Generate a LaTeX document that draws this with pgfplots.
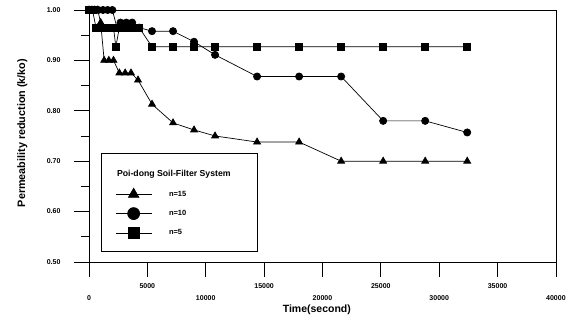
\documentclass[border=0pt]{standalone}
\usepackage{fontspec}
\setmainfont{Liberation Sans}
\usepackage{pgfplots}
\pgfplotsset{compat=1.18}
\begin{document}
\begin{tikzpicture}
\begin{axis}[
  scale only axis, width=467pt, height=252pt,
  xmin=0, xmax=40000, ymin=0.5, ymax=1.0,
  axis line style={line width=0.7pt},
  tick align=outside,
  xtick pos=bottom, ytick pos=left,
  scaled x ticks=false,
  xtick={0,10000,20000,30000,40000},
  extra x ticks={5000,15000,25000,35000},
  extra x tick style={xticklabel style={yshift=12pt}},
  ytick={0.5,0.6,0.7,0.8,0.9,1.0},
  minor ytick={0.55,0.65,0.75,0.85,0.95},
  major tick length=15pt, minor tick length=8pt,
  tick style={black, line width=0.7pt},
  /pgf/number format/assume math mode=true,
  ticklabel style={font=\bfseries\fontsize{7}{8}\selectfont},
  xticklabel style={/pgf/number format/1000 sep={}, yshift=-15pt},
  yticklabel style={/pgf/number format/fixed, /pgf/number format/fixed zerofill, /pgf/number format/precision=2, xshift=-10pt},
  xlabel={Time(second)},
  ylabel={Permeability reduction (k/ko)},
  xlabel style={font=\bfseries\fontsize{10.5}{12}\selectfont, at={(axis description cs:0.488,-0.190)}, anchor=center},
  ylabel style={font=\bfseries\fontsize{10.8}{12}\selectfont, at={(axis description cs:-0.143,0.512)}, anchor=center},
  legend style={at={(axis cs:1030,0.52)}, anchor=south west, draw=black, line width=0.6pt,
    font=\bfseries\fontsize{7.5}{8}\selectfont, inner xsep=14pt, inner ysep=13pt, row sep=8pt,
    column sep=15pt, nodes={inner sep=2pt}},
  legend cell align=left,
  legend image code/.code={\draw[mark repeat=2, mark phase=2, #1] plot coordinates {(0pt,0pt) (18pt,0pt) (36pt,0pt)};},
]
\addlegendimage{empty legend}
\addlegendentry{\hspace*{-52pt}{\fontsize{8.7}{10}\selectfont Poi-dong Soil-Filter System}\rule[-8pt]{0pt}{16pt}\hspace*{11pt}}

\addplot[black, line width=0.7pt, mark=triangle*, mark size=4pt, legend image post style={mark size=6pt}] coordinates {
(0,1.0) (250,1.0) (500,1.0) (750,1.0) (1000,0.975) (1300,0.90) (1700,0.90) (2100,0.90)
(2600,0.875) (3100,0.875) (3600,0.875) (4200,0.861) (5400,0.813) (7200,0.776) (9000,0.762)
(10800,0.750) (14400,0.738) (18000,0.738) (21600,0.70) (25200,0.70) (28800,0.70) (32400,0.70)};
\addlegendentry{n=15}

\addplot[black, line width=0.7pt, mark=*, mark size=3.6pt, legend image post style={mark size=6pt}] coordinates {
(0,1.0) (400,1.0) (800,1.0) (1200,1.0) (1600,1.0) (2000,1.0) (2400,0.965) (2700,0.975) (3200,0.975)
(3700,0.975) (4300,0.965) (5400,0.958) (7200,0.958) (9000,0.937) (10800,0.911) (14400,0.868)
(18000,0.868) (21600,0.868) (25200,0.78) (28800,0.78) (32400,0.757)};
\addlegendentry{n=10}

\addplot[black, line width=0.7pt, mark=square*, mark size=3.4pt, legend image post style={mark size=5.5pt}] coordinates {
(0,1.0) (300,1.0) (600,0.965) (900,0.965) (1200,0.965) (1500,0.965) (1800,0.965) (2100,0.965)
(2300,0.927) (2600,0.965) (3000,0.965) (3400,0.965) (3800,0.965) (4300,0.965) (5400,0.927)
(7200,0.927) (9000,0.927) (10800,0.927) (14400,0.927) (18000,0.927) (21600,0.927) (25200,0.927)
(28800,0.927) (32400,0.927)};
\addlegendentry{n=5}
\end{axis}
\path (current axis.south west) ++(-89pt,-58pt) rectangle ++(569pt,320pt);
\end{tikzpicture}
\end{document}
